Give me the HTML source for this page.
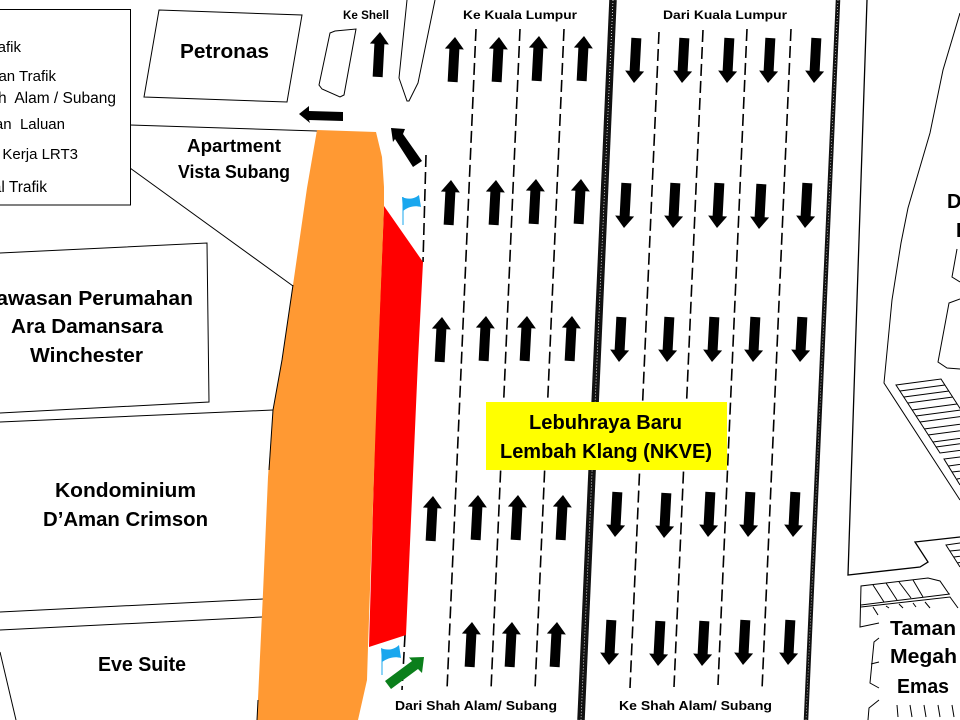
<!DOCTYPE html>
<html>
<head>
<meta charset="utf-8">
<style>
html,body{margin:0;padding:0;background:#fff;width:960px;height:720px;overflow:hidden}
svg{display:block}
text{font-family:"Liberation Sans",sans-serif;fill:#000}
.b{font-weight:bold}
.l{fill:none;stroke:#000;stroke-width:1}
.d{fill:none;stroke:#000;stroke-width:1.6;stroke-dasharray:12 5}
</style>
</head>
<body>
<svg width="960" height="720" viewBox="0 0 960 720" xmlns="http://www.w3.org/2000/svg">
<defs>
<polygon id="u" points="0,0 9.5,12 5,12 5,45 -5,45 -5,12 -9.5,12" fill="#000"/>
<polygon id="w" points="0,0 -9.5,-12 -5,-12 -5,-45 5,-45 5,-12 9.5,-12" fill="#000"/>
</defs>
<rect width="960" height="720" fill="#fff"/>

<!-- site outlines -->
<polygon class="l" points="159,10 302,15 287,102 144,97"/>
<path class="l" d="M330,33 L335,31 L356,29 L344,95 L340,97 L322,89 L319,85 Z"/>
<path class="l" d="M407,0 L399,78 L407,101 L409,101 L418,83 L435,0"/>
<path class="l" d="M130,125 L317,131"/>
<path class="l" d="M130,168 L293,286"/>
<path class="l" d="M0,253 L207,243 L209,402 L0,413"/>
<path class="l" d="M0,422 L273,410"/>
<path class="l" d="M0,612 L263,599"/>
<path class="l" d="M0,630 L262,617"/>
<path class="l" d="M0,652 L16,720"/>

<!-- right side outlines -->
<path class="l" style="stroke-width:1.3" d="M867,0 L855,360 L848,575 L920,567 L928,562 L915,542 L960,537"/>
<path class="l" d="M960,13 L943,70 L930,133 L908,208 L901,243 L892,300 L884,383 L960,500"/>
<path class="l" d="M957,249 L952,277 L960,282"/>
<path class="l" d="M960,299 L949,303 L938,362 L947,368 L960,369"/>
<path class="l" d="M896,385 L941,379 L985,447 L940,453 Z"/>
<path class="l" d="M900,391 L945,385 M904,397 L949,391 M908,403 L953,397 M912,410 L957,404 M916,416 L961,410 M920,422 L965,416 M924,429 L969,423 M928,435 L973,429 M933,442 L978,436 M936,447 L981,441"/>
<path class="l" d="M960,457 L944,459 L960,485 M948.5,466 L970,463 M952,472 L970,470 M957,479 L970,477"/>
<path class="l" d="M960,543 L946,545 L960,567 M950,551 L970,549 M954,557 L970,555 M957,563 L970,561"/>
<path class="l" d="M879,623 L860,627 L861,586 L928,578 L940,581 L949,594"/>
<path class="l" d="M861,605 L950,594 M861,607 L950,597 L958,608"/>
<path class="l" d="M873,585 L884,602 M886,583 L897,600 M899,582 L911,598 M913,580 L923,597 M873,607 L878,615 M886,606 L889,608 M899,604 L903,608 M913,603 L916,607 M925,602 L930,608"/>
<path class="l" d="M879,638 L874,642 L870,683 L879,688 M871,664 L879,662"/>
<path class="l" d="M879,700 L869,708 L868,720 M897,705 L898,717 M910,705 L912,717 M924,705 L926,717 M938,705 L940,717 M952,705 L954,717"/>

<!-- lane dashes -->
<path class="d" d="M476,29 L447,690"/>
<path class="d" d="M520,29 L491,690"/>
<path class="d" d="M564,29 L535,690"/>
<path class="d" d="M659,32 L630,688"/>
<path class="d" d="M703,30 L674,687"/>
<path class="d" d="M747,29 L718,685"/>
<path class="d" d="M791,29 L762,690"/>
<path class="d" d="M426,155 L423,262"/>
<path class="d" d="M405,635 L402,690"/>

<!-- median and road edge -->
<path d="M613,0 L581,720" fill="none" stroke="#111" stroke-width="7.5"/>
<path d="M613,0 L581,720" fill="none" stroke="#fff" stroke-width="0.8" stroke-dasharray="1 2"/>
<path d="M838,0 L806,720" fill="none" stroke="#111" stroke-width="4.5"/>
<path d="M838,0 L806,720" fill="none" stroke="#fff" stroke-width="0.6" stroke-dasharray="1 2"/>

<!-- work zones -->
<polygon fill="#ff0000" points="384,206 423,262 418,360 406,635 369,647 376,400"/>
<polygon fill="#ff9933" points="317,130 376,132 382,157 384,187 384,207 378,360 368,647 367,680 358,720 257,720 263,593 268,477 273,410 282,360 293,285 307,188"/>
<path class="l" d="M293,285 L282,360 L273,410 L269,470 M258,700 L257,720"/>

<!-- flags -->
<path d="M403,197 V225" stroke="#1aa7ee" stroke-width="1"/>
<path fill="#1aa7ee" d="M402,197 C406,199 413,200 419,195 L421,207 C414,205 408,207 403,211 Z"/>
<path d="M382,650 V675" stroke="#1aa7ee" stroke-width="1"/>
<path fill="#1aa7ee" d="M381,648 C385,650 393,651 399,645 L401,658 C394,656 388,658 382,662 Z"/>

<!-- special arrows -->
<polygon fill="#000" points="299,114 309,106 309,111 343,112 343,121 309,120 310,123"/>
<polygon fill="#000" points="391,128 405,129 403,134 422,161 413,167 395,139 393,142"/>
<polygon fill="#0b7f1b" points="424,657 422,673 418,669 391,689 385,681 412,661 409,657.5"/>

<!-- up arrows -->
<use href="#u" transform="translate(380,32) rotate(3)"/>
<use href="#u" transform="translate(455,37) rotate(3)"/>
<use href="#u" transform="translate(499,37) rotate(3)"/>
<use href="#u" transform="translate(539,36) rotate(3)"/>
<use href="#u" transform="translate(584,36) rotate(3)"/>
<use href="#u" transform="translate(451,180) rotate(3)"/>
<use href="#u" transform="translate(496,180) rotate(3)"/>
<use href="#u" transform="translate(536,179) rotate(3)"/>
<use href="#u" transform="translate(581,179) rotate(3)"/>
<use href="#u" transform="translate(442,317) rotate(3)"/>
<use href="#u" transform="translate(486,316) rotate(3)"/>
<use href="#u" transform="translate(527,316) rotate(3)"/>
<use href="#u" transform="translate(572,316) rotate(3)"/>
<use href="#u" transform="translate(433,496) rotate(3)"/>
<use href="#u" transform="translate(478,495) rotate(3)"/>
<use href="#u" transform="translate(518,495) rotate(3)"/>
<use href="#u" transform="translate(563,495) rotate(3)"/>
<use href="#u" transform="translate(472,622) rotate(3)"/>
<use href="#u" transform="translate(512,622) rotate(3)"/>
<use href="#u" transform="translate(557,622) rotate(3)"/>

<!-- down arrows -->
<use href="#w" transform="translate(634,83) rotate(3)"/>
<use href="#w" transform="translate(682,83) rotate(3)"/>
<use href="#w" transform="translate(727,83) rotate(3)"/>
<use href="#w" transform="translate(768,83) rotate(3)"/>
<use href="#w" transform="translate(814,83) rotate(3)"/>
<use href="#w" transform="translate(624,228) rotate(3)"/>
<use href="#w" transform="translate(673,228) rotate(3)"/>
<use href="#w" transform="translate(717,228) rotate(3)"/>
<use href="#w" transform="translate(759,229) rotate(3)"/>
<use href="#w" transform="translate(805,228) rotate(3)"/>
<use href="#w" transform="translate(619,362) rotate(3)"/>
<use href="#w" transform="translate(667,362) rotate(3)"/>
<use href="#w" transform="translate(712,362) rotate(3)"/>
<use href="#w" transform="translate(753,362) rotate(3)"/>
<use href="#w" transform="translate(800,362) rotate(3)"/>
<use href="#w" transform="translate(615,537) rotate(3)"/>
<use href="#w" transform="translate(664,538) rotate(3)"/>
<use href="#w" transform="translate(708,537) rotate(3)"/>
<use href="#w" transform="translate(748,537) rotate(3)"/>
<use href="#w" transform="translate(793,537) rotate(3)"/>
<use href="#w" transform="translate(609,665) rotate(3)"/>
<use href="#w" transform="translate(658,666) rotate(3)"/>
<use href="#w" transform="translate(702,666) rotate(3)"/>
<use href="#w" transform="translate(743,665) rotate(3)"/>
<use href="#w" transform="translate(788,665) rotate(3)"/>

<!-- yellow label -->
<rect x="486" y="402" width="241" height="68" fill="#ffff00"/>
<text class="b" x="529" y="429" font-size="20" textLength="153" lengthAdjust="spacingAndGlyphs">Lebuhraya Baru</text>
<text class="b" x="500" y="458" font-size="20" textLength="212" lengthAdjust="spacingAndGlyphs">Lembah Klang (NKVE)</text>

<!-- legend -->
<rect x="-2" y="9.5" width="132.5" height="195.5" fill="#fff" stroke="#000" stroke-width="1"/>
<g font-size="15" text-anchor="end">
<text x="21" y="52">Trafik</text>
<text x="56" y="81">Aliran Trafik</text>
<text x="116" y="103" font-size="15.5">Shah&#160; Alam / Subang</text>
<text x="65" y="129">Tutupan&#160; Laluan</text>
<text x="78" y="159">Zon Kerja LRT3</text>
<text x="47" y="192" font-size="15.5">Kawal Trafik</text>
</g>

<!-- place labels -->
<text class="b" x="180" y="58" font-size="20" textLength="89" lengthAdjust="spacingAndGlyphs">Petronas</text>
<text class="b" x="343" y="19" font-size="12" textLength="46" lengthAdjust="spacingAndGlyphs">Ke Shell</text>
<text class="b" x="463" y="19" font-size="12" textLength="114" lengthAdjust="spacingAndGlyphs">Ke Kuala Lumpur</text>
<text class="b" x="663" y="19" font-size="12" textLength="124" lengthAdjust="spacingAndGlyphs">Dari Kuala Lumpur</text>
<text class="b" x="187" y="152" font-size="18" textLength="94" lengthAdjust="spacingAndGlyphs">Apartment</text>
<text class="b" x="178" y="178" font-size="18" textLength="112" lengthAdjust="spacingAndGlyphs">Vista Subang</text>
<text class="b" x="-19" y="305" font-size="20.5" textLength="212" lengthAdjust="spacingAndGlyphs">Kawasan Perumahan</text>
<text class="b" x="11" y="333" font-size="20.5" textLength="152" lengthAdjust="spacingAndGlyphs">Ara Damansara</text>
<text class="b" x="30" y="362" font-size="20.5" textLength="113" lengthAdjust="spacingAndGlyphs">Winchester</text>
<text class="b" x="55" y="497" font-size="20.5" textLength="141" lengthAdjust="spacingAndGlyphs">Kondominium</text>
<text class="b" x="43" y="526" font-size="20.5" textLength="165" lengthAdjust="spacingAndGlyphs">D’Aman Crimson</text>
<text class="b" x="98" y="671" font-size="20.5" textLength="88" lengthAdjust="spacingAndGlyphs">Eve Suite</text>
<text class="b" x="395" y="710" font-size="12.5" textLength="162" lengthAdjust="spacingAndGlyphs">Dari Shah Alam/ Subang</text>
<text class="b" x="619" y="710" font-size="12.5" textLength="153" lengthAdjust="spacingAndGlyphs">Ke Shah Alam/ Subang</text>
<text class="b" x="890" y="635" font-size="20.5" textLength="66" lengthAdjust="spacingAndGlyphs">Taman</text>
<text class="b" x="890" y="663" font-size="20.5" textLength="67" lengthAdjust="spacingAndGlyphs">Megah</text>
<text class="b" x="897" y="693" font-size="20.5" textLength="52" lengthAdjust="spacingAndGlyphs">Emas</text>
<text class="b" x="947" y="208" font-size="20">Desa</text>
<text class="b" x="956" y="237" font-size="20">Permai</text>
</svg>
</body>
</html>
